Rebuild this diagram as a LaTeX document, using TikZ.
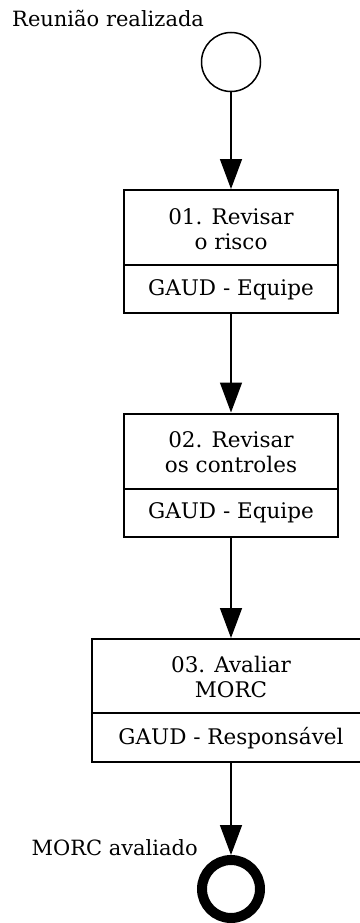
\documentclass[tikz,border=0pt]{standalone}
\usepackage{fontspec}
\setmainfont{DejaVu Serif}
\usetikzlibrary{calc,arrows.meta}
\begin{document}
\begin{tikzpicture}[x=1pt,y=-1pt,
  lbl/.style={font=\fontsize{21}{25}\selectfont, inner sep=0pt},
  boxtext/.style={font=\fontsize{21.5}{25}\selectfont, align=center, inner sep=0pt},
  taskbox/.style={draw, line width=2pt, rectangle, minimum height=123pt, inner sep=0pt},
  startev/.style={draw, circle, line width=1.5pt, minimum size=59pt, inner sep=0pt},
  endev/.style={draw, circle, line width=10pt, minimum size=58pt, inner sep=0pt},
  flow/.style={line width=1.5pt, -{Triangle[length=30pt,width=22pt]}}
]
\useasboundingbox (0,0) rectangle (359,923);
% start event
\node[startev] (s) at (231,62) {};
\node[lbl, anchor=base west] (sl) at (12,27) {Reunião realizada};
% task 1
\node[taskbox, minimum width=214pt] (t1) at (231,251.5) {};
\draw[line width=2pt] ($(t1.north west)+(0,76)$) coordinate (d1a) -- ($(t1.north east)+(0,76)$) coordinate (d1b);
\node[boxtext] (t1a) at (231,229.5) {01. Revisar\\o risco};
\node[boxtext] (t1b) at (231,290) {GAUD - Equipe};
% task 2
\node[taskbox, minimum width=214pt] (t2) at (231,475) {};
\draw[line width=2pt] ($(t2.north west)+(0,76)$) coordinate (d2a) -- ($(t2.north east)+(0,76)$) coordinate (d2b);
\node[boxtext] (t2a) at (231,452.5) {02. Revisar\\os controles};
\node[boxtext] (t2b) at (231,513) {GAUD - Equipe};
% task 3
\node[taskbox, minimum width=278pt] (t3) at (231,700.5) {};
\draw[line width=2pt] ($(t3.north west)+(0,75)$) coordinate (d3a) -- ($(t3.north east)+(0,75)$) coordinate (d3b);
\node[boxtext] (t3a) at (231,676.5) {03. Avaliar\\MORC};
\node[boxtext] (t3b) at (231,738) {GAUD - Responsável};
% end event
\node[endev] (e) at (231,889) {};
\node[lbl, anchor=base east] (el) at (198,855) {MORC avaliado};
% flows
\draw[flow] (s.south) -- (t1.north);
\draw[flow] (t1.south) -- (t2.north);
\draw[flow] (t2.south) -- (t3.north);
\draw[flow] (t3.south) -- (e.north);
\end{tikzpicture}
\end{document}
